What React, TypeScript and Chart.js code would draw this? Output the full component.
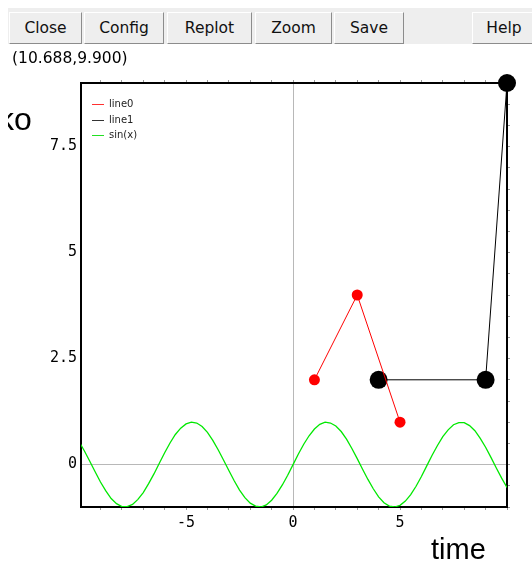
import React, { useEffect, useRef } from 'react';
import { Chart, registerables } from 'chart.js';

Chart.register(...registerables);

// ---- data ----
const seriesNames = ['line0', 'line1', 'sin(x)'];
const seriesColors = ['#ff0000', '#000000', '#00e800'];
const legendColors = ['#ff3030', '#333333', '#22e022'];
const line0X = [1, 3, 5];
const line0Y = [2, 4, 1];
const line1X = [4, 9, 10];
const line1Y = [2, 2, 9];
const sinX = [
  -10, -9.75, -9.5, -9.25, -9, -8.75, -8.5, -8.25, -8, -7.75, -7.5, -7.25, -7, -6.75, -6.5, -6.25,
  -6, -5.75, -5.5, -5.25, -5, -4.75, -4.5, -4.25, -4, -3.75, -3.5, -3.25, -3, -2.75, -2.5, -2.25,
  -2, -1.75, -1.5, -1.25, -1, -0.75, -0.5, -0.25, 0, 0.25, 0.5, 0.75, 1, 1.25, 1.5, 1.75,
  2, 2.25, 2.5, 2.75, 3, 3.25, 3.5, 3.75, 4, 4.25, 4.5, 4.75, 5, 5.25, 5.5, 5.75,
  6, 6.25, 6.5, 6.75, 7, 7.25, 7.5, 7.75, 8, 8.25, 8.5, 8.75, 9, 9.25, 9.5, 9.75, 10,
];
const sinY = [
  0.54, 0.32, 0.08, -0.17, -0.41, -0.62, -0.8, -0.92, -0.99, -0.99, -0.94, -0.82, -0.66, -0.45, -0.22, 0.03,
  0.28, 0.51, 0.71, 0.86, 0.96, 1.0, 0.98, 0.9, 0.76, 0.57, 0.35, 0.11, -0.14, -0.38, -0.6, -0.78,
  -0.91, -0.98, -1.0, -0.95, -0.84, -0.68, -0.48, -0.25, 0, 0.25, 0.48, 0.68, 0.84, 0.95, 1.0, 0.98,
  0.91, 0.78, 0.6, 0.38, 0.14, -0.11, -0.35, -0.57, -0.76, -0.9, -0.98, -1.0, -0.96, -0.86, -0.71, -0.51,
  -0.28, -0.03, 0.22, 0.45, 0.66, 0.82, 0.94, 0.99, 0.99, 0.92, 0.8, 0.62, 0.41, 0.17, -0.08, -0.32, -0.54,
];
const xTickLabels = [-5, 0, 5];
const yTickLabels = [0, 2.5, 5, 7.5];
const xMin = -9.91;
const xMax = 10;
const yMin = -1;
const yMax = 9;
const xTitle = 'time';
const yTitle = 'ko';
const coordText = '(10.688,9.900)';
const buttons = ['Close', 'Config', 'Replot', 'Zoom', 'Save', 'Help'];
const buttonLefts = [9, 84, 167, 255, 334, 472];
const buttonRights = [82, 164, 252, 332, 404, 536];

const zip = (xs: number[], ys: number[]) => xs.map((x, i) => ({ x, y: ys[i] }));

const overlayPlugin = {
  id: 'overlay',
  afterDraw(chart: any) {
    const ctx = chart.ctx as CanvasRenderingContext2D;
    const area = chart.chartArea;
    ctx.save();
    // legend inside plot
    ctx.font = '10px "DejaVu Sans"';
    ctx.textBaseline = 'middle';
    seriesNames.forEach((name, i) => {
      const y = Math.round(area.top + 21 + i * 15.5) + 0.5;
      ctx.strokeStyle = legendColors[i];
      ctx.lineWidth = 1;
      ctx.beginPath();
      ctx.moveTo(area.left + 11, y);
      ctx.lineTo(area.left + 23, y);
      ctx.stroke();
      ctx.fillStyle = '#222';
      ctx.fillText(name, area.left + 28, y);
    });
    // x title
    ctx.fillStyle = '#000';
    ctx.textBaseline = 'alphabetic';
    ctx.font = '29px "Liberation Sans"';
    ctx.fillText(xTitle, 431, 559);
    // y title (clipped at the page margin)
    ctx.beginPath();
    ctx.rect(8, 90, 60, 50);
    ctx.clip();
    ctx.font = '32px "Liberation Sans"';
    ctx.fillText(yTitle, -2, 130);
    ctx.restore();
  },
};

export default function App() {
  const canvasRef = useRef<HTMLCanvasElement | null>(null);

  useEffect(() => {
    if (!canvasRef.current) return;
    const tickFont = { family: '"DejaVu Sans Mono", monospace', size: 15 };
    const zeroGrid = (c: any) => (c.tick && c.tick.value === 0 ? '#b8b8b8' : 'rgba(0,0,0,0)');
    const chart = new Chart(canvasRef.current, {
      type: 'scatter',
      data: {
        datasets: [
          {
            label: seriesNames[0],
            data: zip(line0X, line0Y),
            showLine: true,
            borderColor: seriesColors[0],
            backgroundColor: seriesColors[0],
            borderWidth: 1,
            pointRadius: 5.5,
            pointBorderWidth: 0,
            pointBackgroundColor: seriesColors[0],
            clip: false,
          } as any,
          {
            label: seriesNames[1],
            data: zip(line1X, line1Y),
            showLine: true,
            borderColor: seriesColors[1],
            backgroundColor: seriesColors[1],
            borderWidth: 1,
            pointRadius: 9,
            pointBorderWidth: 0,
            pointBackgroundColor: seriesColors[1],
            clip: false,
          } as any,
          {
            label: seriesNames[2],
            data: zip(sinX, sinY),
            showLine: true,
            borderColor: seriesColors[2],
            backgroundColor: seriesColors[2],
            borderWidth: 1.3,
            pointRadius: 0,
          } as any,
        ],
      },
      options: {
        animation: false,
        responsive: false,
        devicePixelRatio: 1,
        layout: { padding: 0 },
        plugins: { legend: { display: false }, tooltip: { enabled: false } },
        scales: {
          x: {
            type: 'linear',
            position: 'bottom',
            min: xMin,
            max: xMax,
            afterFit: (s: any) => { s.height = 55; },
            ticks: {
              stepSize: 1,
              includeBounds: false,
              autoSkip: false,
              maxRotation: 0,
              padding: 4,
              color: '#000',
              font: tickFont,
              callback: (v: any) => (xTickLabels.includes(Number(v)) ? String(v) : ''),
            },
            grid: { color: zeroGrid, tickColor: '#999', tickLength: 3, lineWidth: 1 },
            border: { display: true, color: '#000', width: 2 },
          },
          xTop: {
            type: 'linear',
            position: 'top',
            min: xMin,
            max: xMax,
            afterFit: (s: any) => { s.height = 83; },
            ticks: { stepSize: 1, includeBounds: false, display: false, autoSkip: false },
            grid: { drawOnChartArea: false, tickColor: '#999', tickLength: 3 },
            border: { display: true, color: '#000', width: 2 },
          },
          y: {
            type: 'linear',
            position: 'left',
            min: yMin,
            max: yMax,
            afterFit: (s: any) => { s.width = 81; },
            ticks: {
              stepSize: 0.5,
              includeBounds: false,
              autoSkip: false,
              padding: 4,
              color: '#000',
              font: tickFont,
              callback: (v: any) => (yTickLabels.includes(Number(v)) ? String(v) : ''),
            },
            grid: { color: zeroGrid, drawTicks: false, lineWidth: 1 },
            border: { display: true, color: '#000', width: 2 },
          },
          yRight: {
            type: 'linear',
            position: 'right',
            min: yMin,
            max: yMax,
            afterFit: (s: any) => { s.width = 25; },
            ticks: { stepSize: 0.5, includeBounds: false, display: false, autoSkip: false },
            grid: { drawOnChartArea: false, tickColor: '#999', tickLength: 3 },
            border: { display: true, color: '#000', width: 2 },
          },
        },
      } as any,
      plugins: [overlayPlugin],
    });
    return () => chart.destroy();
  }, []);

  return (
    <div style={{ position: 'absolute', left: 0, top: 0, width: 532, height: 562, overflow: 'hidden', background: '#fff' }}>
      <canvas ref={canvasRef} width={532} height={562} style={{ position: 'absolute', left: 0, top: 0, width: 532, height: 562 }} />
      <div style={{ position: 'absolute', left: 8, top: 8, width: 524, height: 36, background: '#eeeeee' }} />
      {buttons.map((b, i) => (
        <div
          key={b}
          style={{
            position: 'absolute',
            left: buttonLefts[i],
            top: 12,
            width: buttonRights[i] - buttonLefts[i],
            height: 32,
            boxSizing: 'border-box',
            background: '#eeeeee',
            borderTop: '1px solid #ffffff',
            borderLeft: '1px solid #ffffff',
            borderRight: '1px solid #8c8c8c',
            borderBottom: '1px solid #8c8c8c',
            display: 'flex',
            alignItems: 'center',
            justifyContent: 'center',
            font: '15.5px "DejaVu Sans", sans-serif',
            color: '#111',
          }}
        >
          {b}
        </div>
      ))}
      <div style={{ position: 'absolute', left: 12, top: 49, height: 20, lineHeight: '20px', font: '15.5px "DejaVu Sans", sans-serif', color: '#000', whiteSpace: 'nowrap' }}>
        {coordText}
      </div>
    </div>
  );
}
